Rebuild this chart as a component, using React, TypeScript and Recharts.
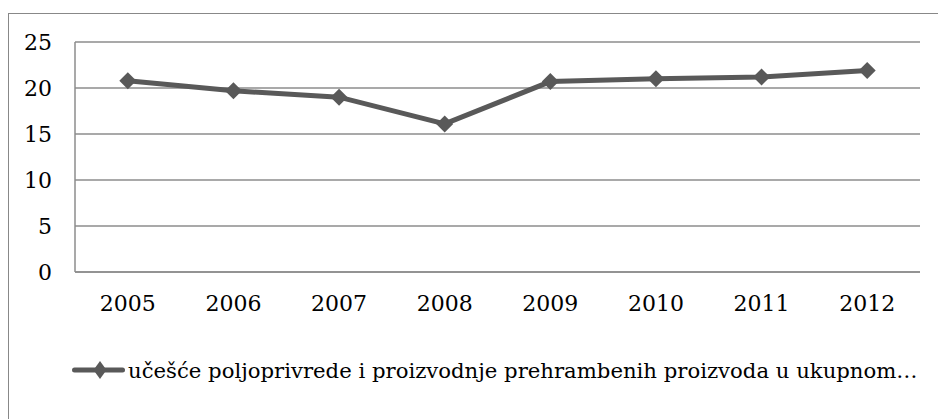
import React from 'react';
import { LineChart, Line, XAxis, YAxis, CartesianGrid, Legend } from 'recharts';

const years = ['2005', '2006', '2007', '2008', '2009', '2010', '2011', '2012'];
const shareValues = [20.8, 19.7, 19.0, 16.1, 20.7, 21.0, 21.2, 21.9];
const yTicks = [0, 5, 10, 15, 20, 25];

const seriesName = 'učešće poljoprivrede i proizvodnje prehrambenih proizvoda u ukupnom…';

const data = years.map((year, i) => ({ year, value: shareValues[i] }));

const LINE_COLOR = '#595959';
const GRID_COLOR = '#8c8c8c';
// Liberation Serif falls back to a sans face here, DejaVu Serif is the closest serif available
const FONT = '"DejaVu Serif", serif';

function Diamond(props: any) {
  const { cx, cy } = props;
  if (cx == null || cy == null) return null;
  const r = 8.5;
  return (
    <polygon
      points={`${cx},${cy - r} ${cx + r},${cy} ${cx},${cy + r} ${cx - r},${cy}`}
      fill={LINE_COLOR}
    />
  );
}

function LegendContent() {
  return (
    <div style={{ display: 'flex', alignItems: 'center', height: 30, fontFamily: FONT, fontSize: 21.2, color: '#000', paddingLeft: 61 }}>
      <svg width={56} height={24} style={{ marginRight: 2, flex: 'none' }}>
        <line x1={4.5} y1={12} x2={52.5} y2={12} stroke={LINE_COLOR} strokeWidth={5} strokeLinecap="round" />
        <polygon points="30,3 36.5,12 30,21 23.5,12" fill={LINE_COLOR} />
      </svg>
      <span style={{ whiteSpace: 'nowrap' }}>{seriesName}</span>
    </div>
  );
}

export default function App() {
  return (
    <div style={{ position: 'absolute', left: 8, top: 13, width: 940, height: 420, border: '1px solid #888', background: '#fff' }}>
      <LineChart
        width={929}
        height={405}
        data={data}
        margin={{ top: 28, right: 18, bottom: 34, left: 0 }}
      >
        <CartesianGrid vertical={false} stroke={GRID_COLOR} strokeWidth={1.5} />
        <XAxis
          dataKey="year"
          scale="band"
          height={83}
          tickLine={false}
          tickSize={0}
          tickMargin={23}
          axisLine={{ stroke: GRID_COLOR, strokeWidth: 1.5 }}
          tick={{ fill: '#000', fontSize: 22, fontFamily: FONT }}
        />
        <YAxis
          domain={[0, 25]}
          ticks={yTicks}
          width={66}
          tickLine={false}
          tickSize={0}
          tickMargin={23}
          axisLine={{ stroke: GRID_COLOR, strokeWidth: 1.5 }}
          tick={{ fill: '#000', fontSize: 22, fontFamily: FONT }}
        />
        <Legend verticalAlign="bottom" align="left" height={30} content={<LegendContent />} />
        <Line
          type="linear"
          dataKey="value"
          name={seriesName}
          stroke={LINE_COLOR}
          strokeWidth={5}
          dot={<Diamond />}
          activeDot={false}
          isAnimationActive={false}
        />
      </LineChart>
    </div>
  );
}
